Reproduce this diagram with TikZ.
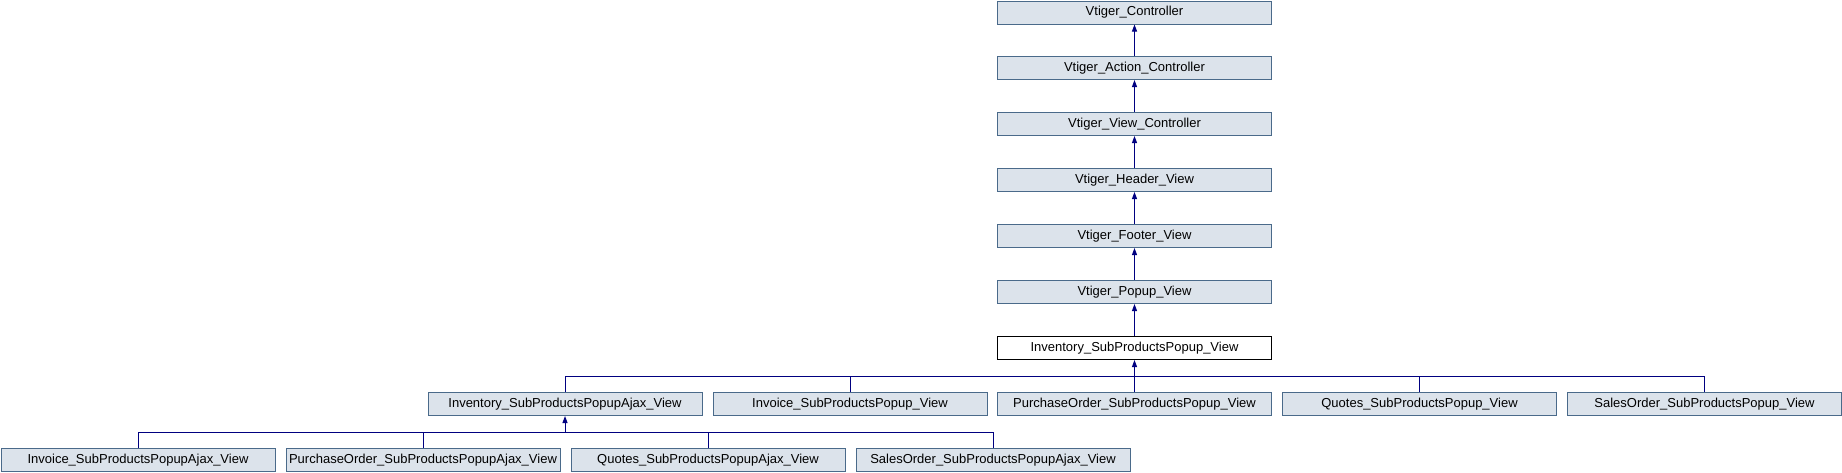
\documentclass[tikz,border=0pt]{standalone}
\usepackage{fontspec}
\setmainfont{Liberation Sans}
\usetikzlibrary{arrows.meta}
\definecolor{boxfill}{HTML}{DCE3EB}
\definecolor{boxdraw}{HTML}{4A6A8A}
\definecolor{edge}{HTML}{000080}
\tikzset{
  cls/.style={draw=boxdraw, fill=boxfill, line width=1pt, minimum width=274pt, minimum height=23pt, inner sep=0pt, font=\fontsize{13}{15}\selectfont, anchor=north west},
  cur/.style={cls, draw=black, fill=white},
  inh/.style={draw=edge, line width=1pt, {Triangle[width=5pt,length=7pt]}-},
}
\begin{document}
\begin{tikzpicture}[x=1pt,y=-1pt]
\useasboundingbox (0,0) rectangle (1842,472);
\node[cls] (c0) at (997,0.5) {Vtiger\_Controller};
\node[cls] (c1) at (997,56) {Vtiger\_Action\_Controller};
\node[cls] (c2) at (997,112) {Vtiger\_View\_Controller};
\node[cls] (c3) at (997,168) {Vtiger\_Header\_View};
\node[cls] (c4) at (997,224) {Vtiger\_Footer\_View};
\node[cls] (c5) at (997,280) {Vtiger\_Popup\_View};
\node[cur] (c6) at (997,336) {Inventory\_SubProductsPopup\_View};
\node[cls] (r1) at (427.5,392) {Inventory\_SubProductsPopupAjax\_View};
\node[cls] (r2) at (712.5,392) {Invoice\_SubProductsPopup\_View};
\node[cls] (r3) at (997,392) {PurchaseOrder\_SubProductsPopup\_View};
\node[cls] (r4) at (1282,392) {Quotes\_SubProductsPopup\_View};
\node[cls] (r5) at (1567,392) {SalesOrder\_SubProductsPopup\_View};
\node[cls] (s1) at (0.5,448) {Invoice\_SubProductsPopupAjax\_View};
\node[cls] (s2) at (285.5,448) {PurchaseOrder\_SubProductsPopupAjax\_View};
\node[cls] (s3) at (570.5,448) {Quotes\_SubProductsPopupAjax\_View};
\node[cls] (s4) at (855.5,448) {SalesOrder\_SubProductsPopupAjax\_View};
\draw[inh] (c0.south) -- (c1.north);
\draw[inh] (c1.south) -- (c2.north);
\draw[inh] (c2.south) -- (c3.north);
\draw[inh] (c3.south) -- (c4.north);
\draw[inh] (c4.south) -- (c5.north);
\draw[inh] (c5.south) -- (c6.north);
\coordinate (h1) at (0,376);
\coordinate (h2) at (0,432);
\draw[inh] (c6.south) -- (c6.south |- h1);
\draw[edge, line width=1pt] (r1.north) |- (h1 -| r5.north) -- (r5.north);
\foreach \n in {r2,r3,r4} \draw[edge, line width=1pt] (\n.north) -- (\n.north |- h1);
\draw[inh] (r1.south) -- (r1.south |- h2);
\draw[edge, line width=1pt] (s1.north) |- (h2 -| s4.north) -- (s4.north);
\foreach \n in {s2,s3} \draw[edge, line width=1pt] (\n.north) -- (\n.north |- h2);
\end{tikzpicture}
\end{document}
